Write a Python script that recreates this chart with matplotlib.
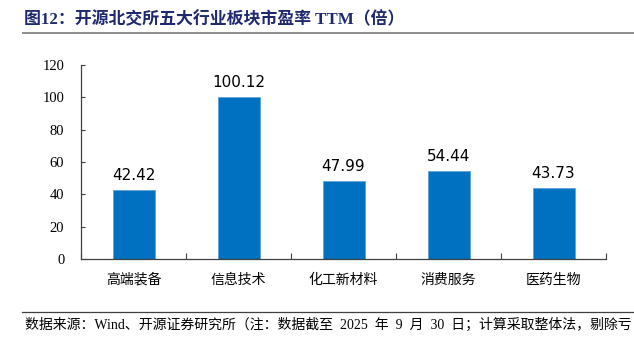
import matplotlib
matplotlib.use("Agg")
import matplotlib.pyplot as plt
from matplotlib.lines import Line2D

# ----------------------------
# Data
# ----------------------------
sectors = ["高端装备", "信息技术", "化工新材料", "消费服务", "医药生物"]
pe_ttm = [42.42, 100.12, 47.99, 54.44, 43.73]
y_ticks = [0, 20, 40, 60, 80, 100, 120]

title = "图12：开源北交所五大行业板块市盈率 TTM（倍）"
source_1 = ("数据来源：Wind、开源证券研究所（注：数据截至  2025  年  9  月  30  日；"
            "计算采取整体法，剔除亏")
source_2 = "损企业）"

BAR_BLUE = "#0070C0"
TITLE_BLUE = "#1F2A6E"
MIXED = ["Liberation Serif", "Noto Sans CJK SC"]

# ----------------------------
# Figure
# ----------------------------
W, H = 634, 344
fig = plt.figure(figsize=(W / 100, H / 100), dpi=100)


def fx(px):
    return px / W


def fy(py):
    return 1 - py / H


ax = fig.add_axes([fx(81), fy(259), fx(606) - fx(81), fy(65) - fy(259)])

x = list(range(len(sectors)))
ax.bar(x, pe_ttm, width=0.4, color=BAR_BLUE,
       edgecolor="#5FA3DC", linewidth=0.6, zorder=2)

for xi, v in zip(x, pe_ttm):
    ax.annotate(f"{v:.2f}", (xi, v), xytext=(0, 5), textcoords="offset points",
                ha="center", va="bottom", fontsize=11,
                family="DejaVu Sans", color="black")

ax.set_xlim(-0.5, len(sectors) - 0.5)
ax.set_ylim(0, 120)
ax.set_yticks(y_ticks)
ax.set_yticklabels([str(t) for t in y_ticks], family="Liberation Serif", fontsize=10.5)

ax.set_xticks(x)
ax.set_xticklabels(sectors, family="Noto Sans CJK SC", fontsize=10)
ax.tick_params(axis="x", which="major", length=0, pad=10)
ax.set_xticks([i + 0.5 for i in range(-1, len(sectors))], minor=True)
ax.tick_params(axis="x", which="minor", direction="in", length=4,
               width=0.8, color="#404040")
ax.tick_params(axis="y", direction="in", length=3, width=0.8,
               color="#404040", pad=12)

for s in ["top", "right"]:
    ax.spines[s].set_visible(False)
for s in ["left", "bottom"]:
    ax.spines[s].set_color("#404040")
    ax.spines[s].set_linewidth(0.9)

# ----------------------------
# Title, rules, source
# ----------------------------
fig.text(fx(24), fy(20), title, ha="left", va="center", fontsize=12.2,
         fontweight="bold", color=TITLE_BLUE, family=MIXED)
fig.add_artist(Line2D([fx(23), 1], [fy(33), fy(33)], color="#8C8C8C",
                      linewidth=1.4, transform=fig.transFigure))
fig.add_artist(Line2D([fx(22), 1], [fy(312), fy(312)], color="#404040",
                      linewidth=0.9, transform=fig.transFigure))
fig.text(fx(25), fy(325), source_1, ha="left", va="center", fontsize=10,
         color="black", family=MIXED)
# second source line sits mostly below the bottom edge, as in the reference
fig.text(fx(25), fy(352), source_2, ha="left", va="center", fontsize=10,
         color="black", family=MIXED)

fig.savefig("out.png", dpi=100)
